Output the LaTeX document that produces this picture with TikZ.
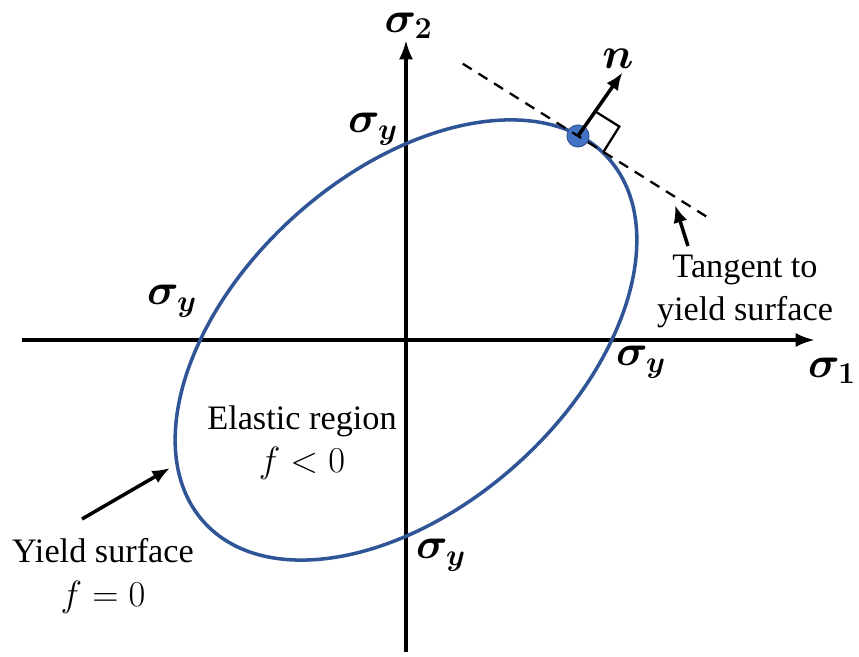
\documentclass[tikz,border=0pt]{standalone}
\usepackage{amsmath,amssymb,bm}
\usepackage{fontspec}
\setmainfont{Liberation Serif}
\usepackage{xcolor}
\usetikzlibrary{arrows.meta,positioning,calc}
\definecolor{ellblue}{HTML}{2F5597}
\definecolor{dotblue}{HTML}{4472C4}

\begin{document}
\begin{tikzpicture}[
  every node/.style={align=center},
  axis/.style={line width=2pt, -{Latex[length=11pt,width=8pt]}},
  arrow/.style={line width=2pt, -{Latex[length=10pt,width=8pt]}},
  slabel/.style={font=\fontsize{26}{30}\selectfont, inner sep=1pt},
  tlabel/.style={font=\fontsize{19.5}{24.5}\selectfont},
]
\useasboundingbox (-8.12,-6.34) rectangle (9.06,6.8);

% axes
\coordinate (s1start) at (-7.68,0);
\coordinate (s1end)   at (8.18,0);
\coordinate (s2start) at (0,-6.24);
\coordinate (s2end)   at (0,6.0);
\draw[axis] (s1start) -- (s1end);
\draw[axis] (s2start) -- (s2end);
\node[slabel] (s1) at (8.52,-0.62) {$\bm{\sigma_1}$};
\node[slabel, inner sep=0pt] (s2) at (0.05,6.28) {$\bm{\sigma_2}$};

% yield surface
\draw[ellblue, line width=2pt, rotate=42] (0,0) ellipse (5.44 and 3.33);

\node[slabel] (sytop)   at (-0.66,4.22) {$\bm{\sigma_y}$};
\node[slabel] (syleft)  at (-4.68,0.78) {$\bm{\sigma_y}$};
\node[slabel] (syright) at (4.7,-0.44)  {$\bm{\sigma_y}$};
\node[slabel] (sybot)   at (0.7,-4.3)   {$\bm{\sigma_y}$};

% tangent and normal
\node[circle, fill=dotblue, draw=ellblue, line width=0.6pt,
      minimum size=0.44cm, inner sep=0pt] (pt) at (3.44,4.08) {};
\coordinate (tA) at ($(pt)+(147.9:2.72)$);
\coordinate (tB) at ($(pt)+(-32.1:3.11)$);
\draw[line width=1.3pt, dash pattern=on 6pt off 4.5pt] (tA) -- (tB);
\draw[line width=1.3pt] ($(pt)+(57.9:0.6)$) -- ++(-32.1:0.6) -- ++(237.9:0.6);
\coordinate (nend) at ($(pt)+(55:1.55)$);
\draw[arrow] (pt.center) -- (nend);
\node[slabel] (nlab) at (4.24,5.62) {$\bm{n}$};

\node[tlabel] (tang) at (6.78,0.97) {Tangent to\\yield surface};
\coordinate (tangtip) at (5.38,2.7);
\draw[arrow] (5.64,1.88) coordinate (tangtail) -- (tangtip);

% labels inside and outside
\node[tlabel] (elastic) at (-2.08,-2.06) {Elastic region\\$f<0$};
\node[tlabel] (yield)   at (-6.06,-4.72) {Yield surface\\$f=0$};
\coordinate (yieldtail) at (-6.48,-3.58);
\coordinate (yieldtip)  at (-4.72,-2.56);
\draw[arrow] (yieldtail) -- (yieldtip);

\end{tikzpicture}
\end{document}
